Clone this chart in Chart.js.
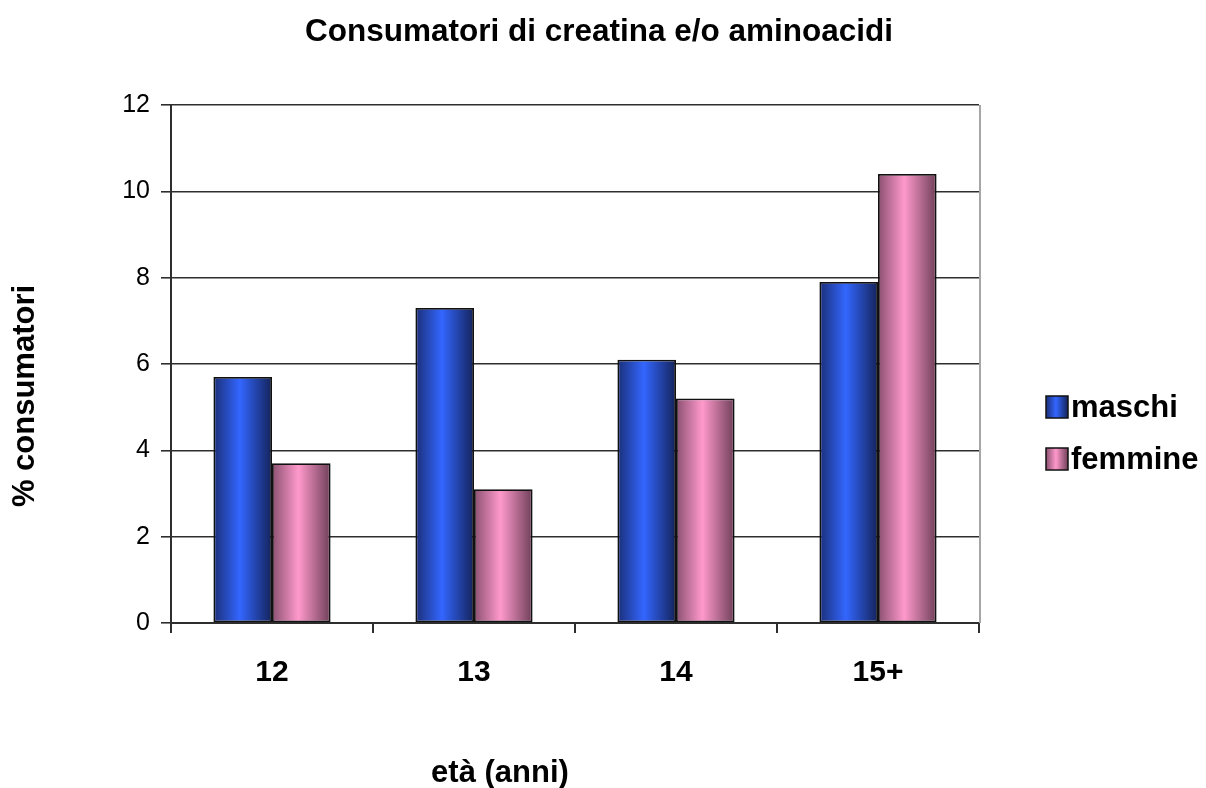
<!DOCTYPE html>
<html>
<head>
<meta charset="utf-8">
<script src="https://cdn.jsdelivr.net/npm/chart.js@4"></script>
<style>
  html, body { margin: 0; padding: 0; background: #fff; }
  #wrap { width: 1206px; height: 788px; }
</style>
</head>
<body>
<div id="wrap"><canvas id="chart" width="1206" height="788"></canvas></div>
<script>
const categories = ['12', '13', '14', '15+'];
const maschi = [5.7, 7.3, 6.1, 7.9];
const femmine = [3.7, 3.1, 5.2, 10.4];
const seriesNames = ['maschi', 'femmine'];
const yTicks = [0, 2, 4, 6, 8, 10, 12];

const FONT = '"Liberation Sans", Arial, sans-serif';
const LINE = '#2e2e2e';

// colour stops for the shaded bars (left edge, highlight, right edge)
const shades = [
  ['#1b2f78', '#3366ff', '#14235a'],
  ['#8a5070', '#ff99cc', '#6e3f58']
];

function shadeFor(ctx, idx, left, right) {
  const g = ctx.createLinearGradient(left, 0, right, 0);
  const s = shades[idx];
  g.addColorStop(0, s[0]);
  g.addColorStop(0.45, s[1]);
  g.addColorStop(1, s[2]);
  return g;
}

// paint each bar with a horizontal gradient based on where it ended up
const barShading = {
  id: 'barShading',
  beforeDatasetsDraw(chart) {
    chart.data.datasets.forEach((ds, i) => {
      chart.getDatasetMeta(i).data.forEach(bar => {
        const { x, width } = bar.getProps(['x', 'width'], true);
        bar.options = Object.assign({}, bar.options, {
          backgroundColor: shadeFor(chart.ctx, i, x - width / 2, x + width / 2),
          borderColor: '#111',
          borderWidth: 1.8
        });
      });
    });
  }
};

// title, plot frame, axis titles and legend the way the spreadsheet put them
const decorations = {
  id: 'decorations',
  afterDraw(chart) {
    const ctx = chart.ctx;
    const a = chart.chartArea;
    ctx.save();

    ctx.strokeStyle = '#a6a6a6';
    ctx.lineWidth = 2;
    ctx.beginPath();
    ctx.moveTo(a.right + 1, a.top);
    ctx.lineTo(a.right + 1, a.bottom);
    ctx.stroke();

    ctx.fillStyle = '#000';
    ctx.font = 'bold 31.5px ' + FONT;
    ctx.textAlign = 'center';
    ctx.textBaseline = 'middle';
    ctx.fillText('Consumatori di creatina e/o aminoacidi', 599, 32);

    ctx.font = 'bold 31px ' + FONT;
    ctx.fillText('età (anni)', 500, 773);

    ctx.save();
    ctx.translate(25, 396);
    ctx.rotate(-Math.PI / 2);
    ctx.fillText('% consumatori', 0, 0);
    ctx.restore();

    // legend
    ctx.textAlign = 'left';
    const rows = [407, 459];
    chart.data.datasets.forEach((ds, i) => {
      const y = rows[i];
      ctx.fillStyle = shadeFor(ctx, i, 1046, 1068);
      ctx.fillRect(1046, y - 11, 22, 22);
      ctx.strokeStyle = '#111';
      ctx.lineWidth = 1.5;
      ctx.strokeRect(1046, y - 11, 22, 22);
      ctx.fillStyle = '#000';
      ctx.fillText(ds.label, 1071, y + 1);
    });
    ctx.restore();
  }
};

new Chart(document.getElementById('chart'), {
  type: 'bar',
  data: {
    labels: categories,
    datasets: [
      { label: seriesNames[0], data: maschi, backgroundColor: c => shades[0][1], borderColor: '#111', borderWidth: 1.8, borderSkipped: false },
      { label: seriesNames[1], data: femmine, backgroundColor: c => shades[1][1], borderColor: '#111', borderWidth: 1.8, borderSkipped: false }
    ]
  },
  options: {
    responsive: false,
    animation: false,
    layout: { padding: { left: 0, right: 227, top: 105, bottom: 0 } },
    datasets: {
      bar: { categoryPercentage: 0.58, barPercentage: 1 }
    },
    plugins: {
      legend: { display: false },
      tooltip: { enabled: false },
      title: { display: false }
    },
    scales: {
      x: {
        afterFit: s => { s.height = 165; },
        border: { color: LINE, width: 2 },
        grid: { drawOnChartArea: false, drawTicks: true, tickLength: 10, color: LINE, lineWidth: 2, offset: true },
        ticks: {
          color: '#000',
          padding: 22,
          font: { family: FONT, size: 30, weight: 'bold' }
        }
      },
      y: {
        min: 0,
        max: 12,
        afterFit: s => { s.width = 171; },
        afterBuildTicks: s => { s.ticks = yTicks.map(v => ({ value: v })); },
        border: { color: LINE, width: 2 },
        grid: { color: LINE, lineWidth: 1.6, tickLength: 10 },
        ticks: {
          color: '#000',
          padding: 11,
          font: { family: FONT, size: 25 }
        }
      }
    }
  },
  plugins: [barShading, decorations]
});
</script>
</body>
</html>
